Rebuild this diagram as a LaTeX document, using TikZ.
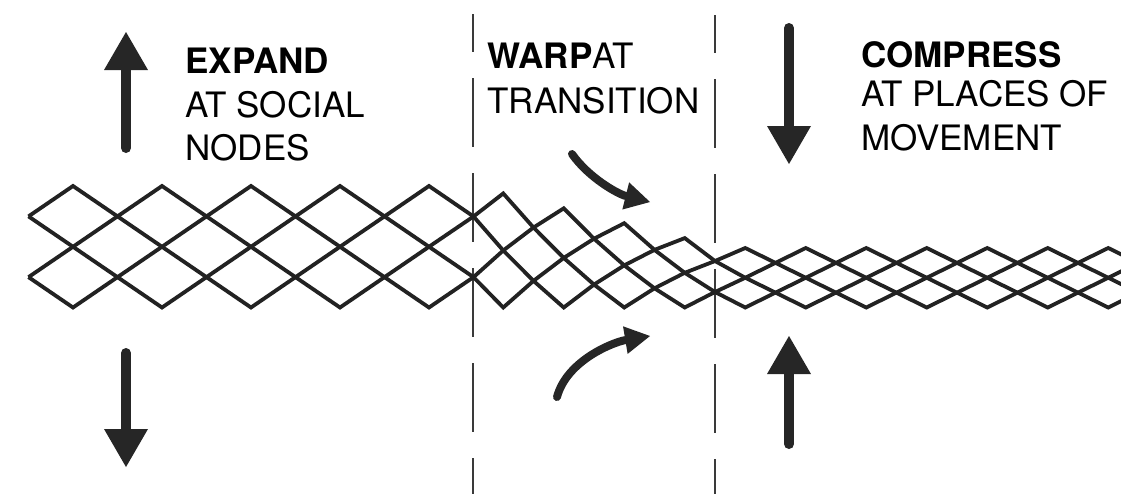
\documentclass[tikz,border=0pt]{standalone}
\usepackage{fontspec}
\setmainfont{TeX Gyre Heros}
\usepackage{tikz}
\usetikzlibrary{positioning, arrows.meta, calc}
\definecolor{meshink}{HTML}{222222}
\definecolor{arrowink}{HTML}{262626}
\definecolor{guideink}{HTML}{3A3A3A}

\begin{document}
\begin{tikzpicture}[
    x=0.5pt, y=-0.5pt,
    declare function={
        meshx(\u)=(\u<=4.5)*(73+89*\u)+(\u>4.5)*(473+60.5*(\u-4.5));
        meshtop(\x)=min(248,186+0.246*max(0,\x-473));
        meshph(\p)=(\p<=2)*(\p/2)+(\p>2)*(2-\p/2);
        meshy(\u,\k)=meshtop(meshx(\u))+meshph(mod(\u-\k+8,4))*(307.5-meshtop(meshx(\u)));
    },
    meshline/.style={line width=1.9pt, meshink, line join=miter},
    guideline/.style={line width=1.1pt, guideink, dash pattern=on 34.5pt off 13pt, dash phase=15.5pt},
    bigarrow/.style={line width=5pt, arrowink, line cap=round, -{Triangle[length=19pt, width=22pt, line width=0pt]}},
    curvearrow/.style={line width=4pt, arrowink, line cap=round, -{Triangle[length=12.5pt, width=14pt, line width=0pt]}},
    headtxt/.style={anchor=base west, inner sep=0pt, font=\fontsize{17.5}{20}\selectfont\bfseries},
    bodytxt/.style={anchor=base west, inner sep=0pt, font=\fontsize{17.5}{20}\selectfont},
]
\useasboundingbox (0,0) rectangle (1121,494);
\clip (0,0) rectangle (1121,494);

% Section borders
\coordinate (warpTopL) at (473,14);
\coordinate (warpBotL) at (473,494);
\coordinate (warpTopR) at (715,15);
\coordinate (warpBotR) at (715,494);
\draw[guideline] (warpTopL) -- (warpBotL);
\draw[guideline] (warpTopR) -- (warpBotR);

% Mesh
\foreach \k in {0,...,3} {
    \draw[meshline] plot[variable=\u, samples at={-0.5,0,...,15.5}] ({meshx(\u)}, {meshy(\u,\k)});
}

% Labels
\node[headtxt] (expandHead) at (185,73) {EXPAND};
\node[bodytxt] (expandL1) at (185,117) {AT SOCIAL};
\node[bodytxt] (expandL2) at (185,160) {NODES};
\node[bodytxt] (warpHead) at (487,68) {\textbf{WARP}AT};
\node[bodytxt] (warpL1) at (487,113) {TRANSITION};
\node[headtxt] (compHead) at (861,67) {COMPRESS};
\node[bodytxt] (compL1) at (861,106) {AT PLACES OF};
\node[bodytxt] (compL2) at (861,150) {MOVEMENT};

% Straight arrows
\coordinate (expUpFoot) at (126,148);
\coordinate (expUpTip) at (126,32);
\coordinate (expDnFoot) at (126,353);
\coordinate (expDnTip) at (126,467);
\coordinate (compDnFoot) at (789,28);
\coordinate (compDnTip) at (789,164);
\coordinate (compUpFoot) at (789,444);
\coordinate (compUpTip) at (789,336);
\draw[bigarrow] (expUpFoot) -- (expUpTip);
\draw[bigarrow] (expDnFoot) -- (expDnTip);
\draw[bigarrow] (compDnFoot) -- (compDnTip);
\draw[bigarrow] (compUpFoot) -- (compUpTip);

% Curved arrows
\coordinate (warpInTopS) at (572,154);
\coordinate (warpInTopE) at (650,202);
\coordinate (warpInBotS) at (557,397);
\coordinate (warpInBotE) at (650,336);
\draw[curvearrow] (warpInTopS) .. controls (589,178) and (618,194) .. (warpInTopE);
\draw[curvearrow] (warpInBotS) .. controls (567,360) and (614,342) .. (warpInBotE);

\end{tikzpicture}
\end{document}
